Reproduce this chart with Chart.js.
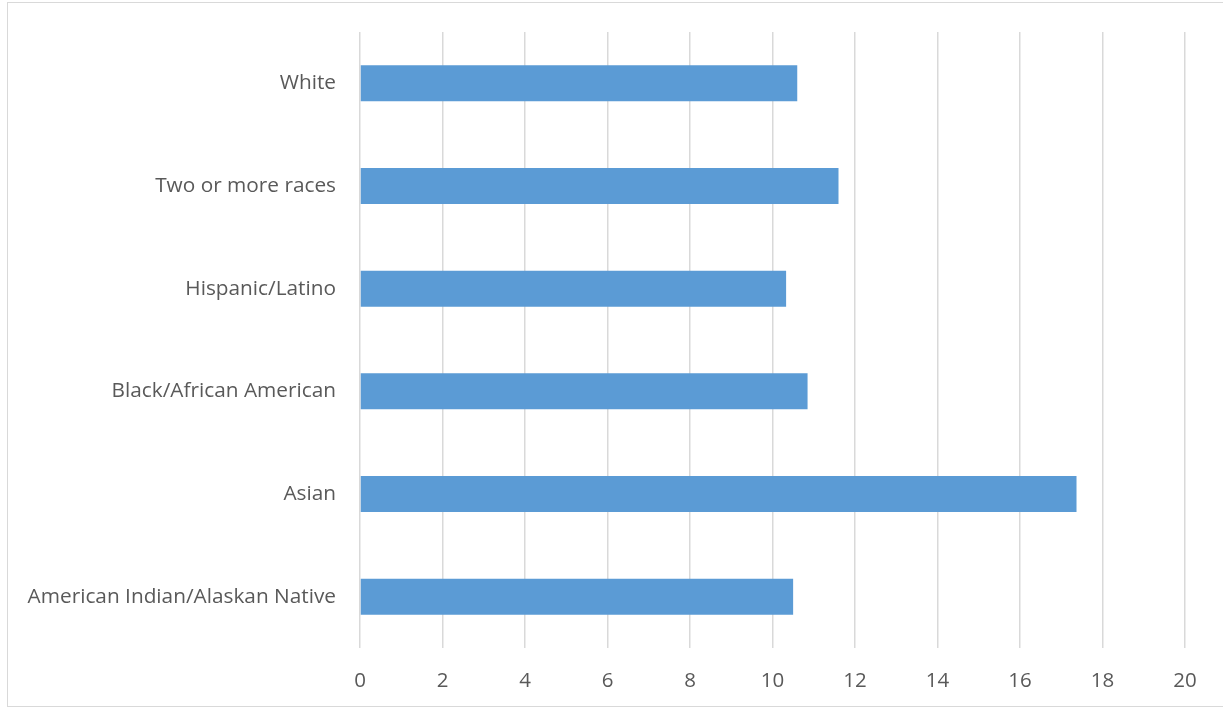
<!DOCTYPE html>
<html>
<head>
<meta charset="utf-8">
<script src="https://cdn.jsdelivr.net/npm/chart.js@4/dist/chart.umd.min.js"></script>
<style>
    html, body { margin: 0; padding: 0; background: #ffffff; }
    #wrap { position: relative; width: 1223px; height: 710px; }
    #frame {
        position: absolute; left: 7px; top: 2px; width: 1220px; height: 705px;
        border: 1.5px solid #d9d9d9; box-sizing: border-box; pointer-events: none;
    }
</style>
</head>
<body>
<div id="wrap">
    <canvas id="chart" width="1223" height="710"></canvas>
    <div id="frame"></div>
</div>
<script>
const categories = [
    "White",
    "Two or more races",
    "Hispanic/Latino",
    "Black/African American",
    "Asian",
    "American Indian/Alaskan Native",
];
const values = [10.6, 11.6, 10.33, 10.85, 17.37, 10.5];
const xTicks = [0, 2, 4, 6, 8, 10, 12, 14, 16, 18, 20];

document.addEventListener("DOMContentLoaded", () => {
    const ctx = document.getElementById("chart");

    new Chart(ctx, {
        type: "bar",
        data: {
            labels: categories,
            datasets: [
                {
                    data: values,
                    backgroundColor: "#5b9bd5",
                    borderWidth: 0,
                    categoryPercentage: 1,
                    barPercentage: 0.35,
                },
            ],
        },
        options: {
            indexAxis: "y",
            responsive: false,
            animation: false,
            layout: { padding: { left: 0, right: 38, top: 32, bottom: 0 } },
            plugins: {
                legend: { display: false },
                tooltip: { enabled: false },
            },
            scales: {
                x: {
                    min: xTicks[0],
                    max: xTicks[xTicks.length - 1],
                    afterBuildTicks: (scale) => {
                        scale.ticks = xTicks.map((v) => ({ value: v }));
                    },
                    afterFit: (scale) => { scale.height = 62; },
                    border: { display: false },
                    grid: { color: "#d9d9d9", lineWidth: 1.5, drawTicks: false },
                    ticks: {
                        color: "#595959",
                        font: { family: "'Open Sans'", size: 20.5 },
                        padding: 21,
                        maxRotation: 0,
                    },
                },
                y: {
                    afterFit: (scale) => {
                        scale.width = 360;
                        scale.paddingTop = 0;
                        scale.paddingBottom = 0;
                    },
                    border: { display: false },
                    grid: { display: false, drawTicks: false },
                    ticks: {
                        color: "#595959",
                        font: { family: "'Open Sans'", size: 20.8 },
                        padding: 24,
                    },
                },
            },
        },
    });
});
</script>
</body>
</html>
